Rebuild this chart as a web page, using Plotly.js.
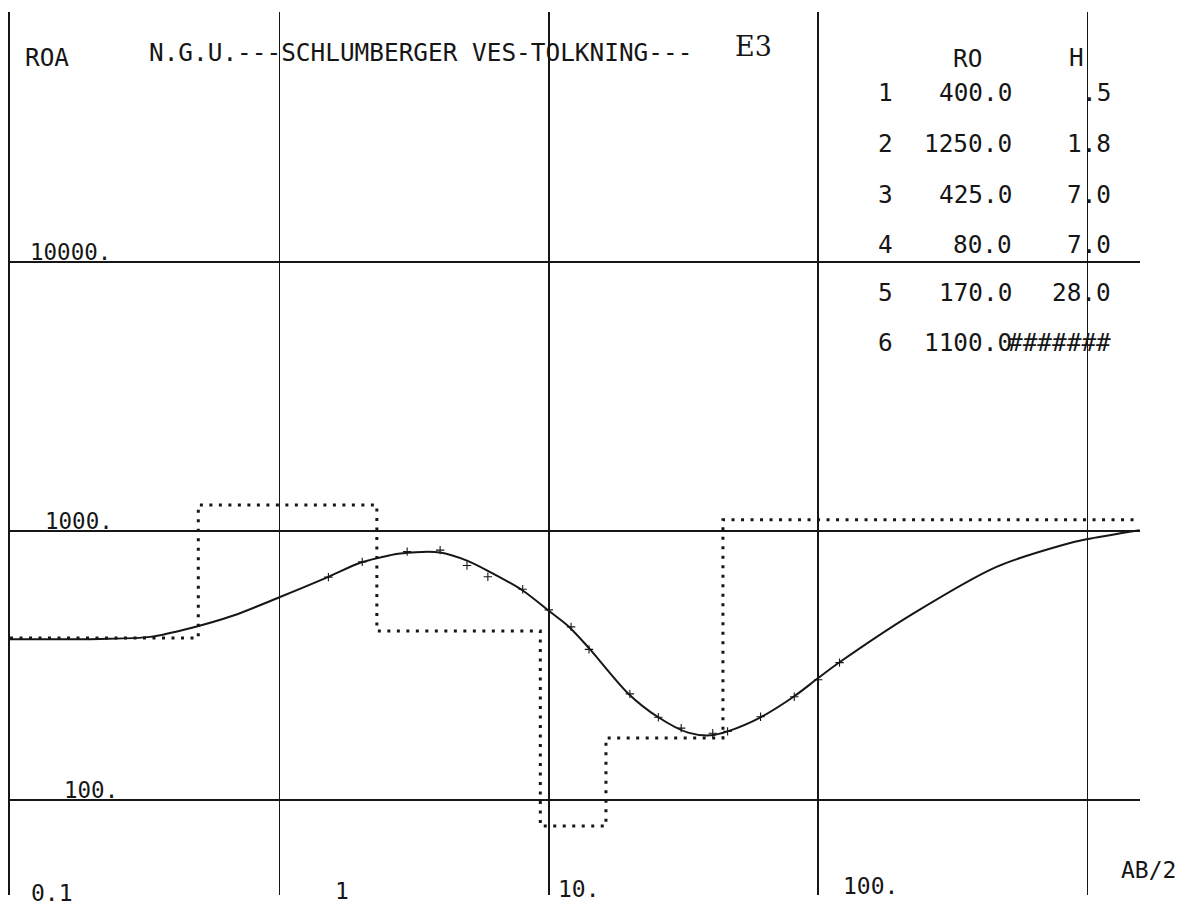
<!DOCTYPE html>
<html>
<head>
<meta charset="utf-8">
<script src="https://cdn.plot.ly/plotly-3.0.1.min.js"></script>
<style>
  html, body { margin: 0; padding: 0; background: #ffffff; }
  #chart { width: 1200px; height: 911px; }
</style>
</head>
<body>
<div id="chart"></div>
<script>
// ---- Layer model (table values) ----
const layerIndex = [1, 2, 3, 4, 5, 6];
const layerRO = [400.0, 1250.0, 425.0, 80.0, 170.0, 1100.0];
const layerH = [0.5, 1.8, 7.0, 7.0, 28.0];           // last layer: half-space
const layerHText = [".5", "1.8", "7.0", "7.0", "28.0", "#######"];
const layerROText = ["400.0", "1250.0", "425.0", "80.0", "170.0", "1100.0"];
const modelStartAB = 0.1;
const modelEndAB = 1530;

// ---- Computed (model) apparent resistivity curve ----
const curveAB = [0.1, 0.215, 0.331, 0.474, 0.675, 1.0, 1.52, 1.995, 2.58, 2.81, 3.95, 4.97, 5.94, 8.0, 10, 11.9, 14.1, 19.7, 25.5, 32.9, 39.9, 46.1, 61.1, 81.5, 100, 120, 225, 459, 815, 990, 1560];
const curveRho = [396, 397, 404, 437, 485, 567, 675, 762, 813, 825, 832, 776, 711, 601, 505, 440, 367, 249, 203, 178, 174, 180, 203, 243, 284, 325, 493, 736, 889, 931, 1006];

// ---- Field measurements (small + marks) ----
const measAB = [1.52, 2.03, 2.98, 3.95, 4.97, 5.94, 8.0, 10, 12.1, 14.1, 20.0, 25.5, 31, 40.6, 46.1, 61.1, 81.5, 100, 120];
const measRho = [674, 768, 838, 849, 744, 676, 607, 509, 440, 363, 248, 203, 185, 177, 180, 204, 242, 280, 324];

// ---- Axis labels ----
const xTickVals = [0.1, 1, 10, 100, 1000];
const xTickText = ["0.1", "1", "10.", "100."];
const yTickVals = [100, 1000, 10000];
const yTickText = ["100.", "1000.", "10000."];
const titleText = "N.G.U.---SCHLUMBERGER VES-TOLKNING---";
const stationText = "E3";
const yAxisName = "ROA";
const xAxisName = "AB/2";

// ---- build step model from RO/H ----
const depths = [];
let acc = 0;
layerH.forEach(h => { acc += h; depths.push(+acc.toFixed(2)); });
const stepX = [modelStartAB];
const stepY = [layerRO[0]];
for (let i = 0; i < depths.length; i++) {
  stepX.push(depths[i]); stepY.push(layerRO[i]);
  stepX.push(depths[i]); stepY.push(layerRO[i + 1]);
}
stepX.push(modelEndAB); stepY.push(layerRO[layerRO.length - 1]);

// ---- geometry ----
const W = 1200, H = 911;
const M = { l: 10, r: 60, t: 12, b: 16 };
const PW = W - M.l - M.r, PH = H - M.t - M.b;
const px = x => (x - M.l) / PW;
const py = y => 1 - (y - M.t) / PH;
const ink = '#161616';
const mono = 'DejaVu Sans Mono, Liberation Mono, monospace';

const ann = [];
function txt(text, x, y, opts) {
  ann.push(Object.assign({
    text: text, xref: 'paper', yref: 'paper', x: px(x), y: py(y),
    xanchor: 'left', yanchor: 'middle', showarrow: false,
    font: { family: mono, size: 24.4, color: ink }
  }, opts || {}));
}

// header line
txt(yAxisName, 23, 57);
txt(titleText, 147, 52);
txt(stationText, 733, 46, { font: { family: 'DejaVu Serif, Liberation Serif, serif', size: 27, color: ink } });

// table
txt("RO", 951, 58);
txt("H", 1067, 57);
const rowY = [93, 143, 194, 244, 292, 342];
layerIndex.forEach((n, i) => {
  txt(String(n), 876, rowY[i]);
  txt(layerROText[i], 1014, rowY[i], { xanchor: 'right' });
  txt(layerHText[i], 1113, rowY[i], { xanchor: 'right' });
});

// y tick labels sitting on the grid lines
const yLabX = [62, 43, 28];
yTickVals.forEach((v, i) => {
  ann.push({
    text: yTickText[i], xref: 'paper', yref: 'y', x: px(yLabX[i]), y: Math.log10(v),
    xanchor: 'left', yanchor: 'bottom', yshift: -5, showarrow: false,
    font: { family: mono, size: 22.5, color: ink }
  });
});

// x tick labels at the bottom, right of each line
const xLabPx = [29, 333, 556, 841];
const xLabPy = [893, 891, 889, 886];
xTickText.forEach((t, i) => txt(t, xLabPx[i], xLabPy[i], { font: { family: mono, size: 23, color: ink } }));
txt(xAxisName, 1119, 870, { font: { family: mono, size: 23, color: ink } });

const traces = [
  {
    name: 'Modell (lag)', x: stepX, y: stepY, mode: 'lines',
    line: { color: ink, width: 3, dash: '3px,6.5px' }
  },
  {
    name: 'Beregnet ROA', x: curveAB, y: curveRho, mode: 'lines',
    line: { color: ink, width: 2, shape: 'spline', smoothing: 0.8 }
  },
  {
    name: 'Målt ROA', x: measAB, y: measRho, mode: 'markers',
    marker: { symbol: 'cross-thin', size: 6, color: ink, line: { color: ink, width: 1.1 } }
  }
];

const layout = {
  width: W, height: H,
  margin: M,
  paper_bgcolor: '#ffffff', plot_bgcolor: '#ffffff',
  showlegend: false,
  xaxis: {
    type: 'log', range: [-1, -1 + PW / 269.4],
    tickvals: xTickVals, showticklabels: false, ticks: '',
    showgrid: true, gridcolor: ink, gridwidth: 1.6,
    zeroline: false, showline: false, fixedrange: true
  },
  yaxis: {
    type: 'log', range: [3 - (M.t + PH - 531) / 269, 3 + (531 - M.t) / 269],
    tickvals: yTickVals, showticklabels: false, ticks: '',
    showgrid: true, gridcolor: ink, gridwidth: 1.6,
    zeroline: false, showline: true, linecolor: ink, linewidth: 1.6, fixedrange: true
  },
  annotations: ann
};

Plotly.newPlot('chart', traces, layout, { staticPlot: true, displayModeBar: false });
</script>
</body>
</html>
